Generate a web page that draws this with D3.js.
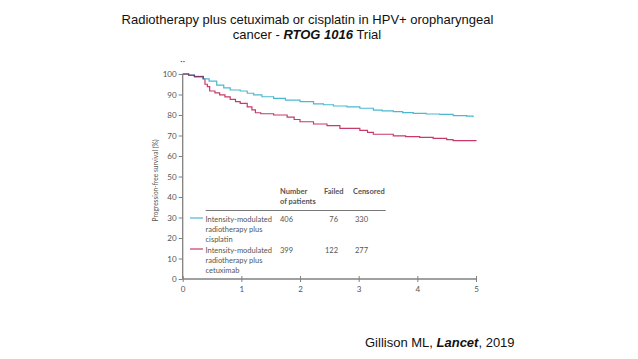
<!DOCTYPE html>
<html>
<head>
<meta charset="utf-8">
<script src="https://cdn.jsdelivr.net/npm/d3@7"></script>
<style>
  html, body { margin: 0; padding: 0; background: #fff; }
  svg { display: block; }
</style>
</head>
<body>
<svg id="chart" width="638" height="359"></svg>
<script>
// ---- Data ----
const xTicks = [0, 1, 2, 3, 4, 5];
const yTicks = [0, 10, 20, 30, 40, 50, 60, 70, 80, 90, 100];

const cisplatinTime = [0, 0.1, 0.2, 0.35, 0.45, 0.58, 0.7, 0.81, 0.98, 1.1, 1.21, 1.35, 1.55, 1.75, 2.0, 2.23, 2.4, 2.57, 2.8, 3.02, 3.25, 3.4, 3.59, 3.75, 3.93, 4.15, 4.38, 4.61, 4.84, 4.95];
const cisplatinSurv = [100, 99.5, 98.8, 97.6, 96.5, 94.6, 93.2, 92.2, 91.7, 90.6, 89.8, 88.9, 88.1, 87.3, 86.5, 85.4, 85.0, 84.4, 84.0, 83.3, 82.4, 82.0, 81.6, 81.2, 80.8, 80.5, 80.3, 79.7, 79.5, 78.9];

const cetuximabTime = [0, 0.1, 0.2, 0.35, 0.38, 0.42, 0.46, 0.55, 0.63, 0.72, 0.81, 0.9, 0.98, 1.1, 1.18, 1.24, 1.33, 1.55, 1.78, 1.9, 2.0, 2.23, 2.46, 2.68, 3.02, 3.15, 3.25, 3.59, 3.8, 4.04, 4.27, 4.5, 4.61, 5.0];
const cetuximabSurv = [100, 99.4, 98.7, 97.6, 95.0, 93.8, 91.7, 90.8, 89.8, 88.8, 87.6, 86.5, 85.7, 84.0, 82.5, 81.1, 80.6, 80.0, 79.0, 77.8, 76.7, 75.6, 74.8, 73.5, 72.5, 71.5, 70.6, 69.8, 69.5, 69.1, 68.6, 68.0, 67.5, 67.3];

const tableHeaders = [["Number", "of patients"], ["Failed"], ["Censored"]];
const groupNames = [["Intensity-modulated", "radiotherapy plus", "cisplatin"],
                    ["Intensity-modulated", "radiotherapy plus", "cetuximab"]];
const nPatients = [406, 399];
const nFailed = [76, 122];
const nCensored = [330, 277];
const groupColors = ["#4bb8cf", "#c83a6c"];

const titleLine1 = "Radiotherapy plus cetuximab or cisplatin in HPV+ oropharyngeal";
const yLabel = "Progression-free survival (%)";

// ---- Layout ----
const svg = d3.select("#chart");
const x = d3.scaleLinear().domain([0, 5]).range([182.7, 476]);
const y = d3.scaleLinear().domain([0, 100]).range([279, 74]);

const axisColor = "#808080";
const textColor = "#555";
const smallFont = "'Liberation Sans Narrow', 'Lato', sans-serif";

// fit a font size so a reference string has a given width
function fitSize(str, targetW, weight) {
  const t = svg.append("text").attr("font-family", smallFont).attr("font-size", 10)
    .attr("font-weight", weight || "normal").text(str);
  const w = t.node().getComputedTextLength();
  t.remove();
  return 10 * targetW / w;
}
const tableSize = fitSize("Intensity-modulated", 66.5);
const labelSize = fitSize(yLabel, 82);
const tickSize = fitSize("100", 14);

// Title
svg.append("text")
  .attr("x", 307.5).attr("y", 24)
  .attr("text-anchor", "middle")
  .attr("font-family", "'Liberation Sans', Arial, sans-serif")
  .attr("font-size", 13).attr("fill", "#111")
  .text(titleLine1);
const t2 = svg.append("text")
  .attr("x", 307).attr("y", 38.5)
  .attr("text-anchor", "middle")
  .attr("font-family", "'Liberation Sans', Arial, sans-serif")
  .attr("font-size", 13).attr("fill", "#111");
t2.append("tspan").text("cancer - ");
t2.append("tspan").attr("font-weight", "bold").attr("font-style", "italic").text("RTOG 1016");
t2.append("tspan").text(" Trial");

// Footer
const foot = svg.append("text")
  .attr("x", 365).attr("y", 347)
  .attr("font-family", "'Liberation Sans', Arial, sans-serif")
  .attr("font-size", 13).attr("fill", "#111");
foot.append("tspan").text("Gillison ML, ");
foot.append("tspan").attr("font-weight", "bold").attr("font-style", "italic").text("Lancet");
foot.append("tspan").text(", 2019");

// Axes
const gx = svg.append("g").attr("transform", `translate(0,${y(0)})`)
  .call(d3.axisBottom(x).tickValues(xTicks).tickSize(4).tickPadding(3).tickFormat(d3.format("d")));
const gy = svg.append("g").attr("transform", `translate(${x(0)},0)`)
  .call(d3.axisLeft(y).tickValues(yTicks).tickSize(4).tickPadding(2).tickFormat(d3.format("d")));
[gx, gy].forEach(g => {
  g.select(".domain").attr("stroke", axisColor).attr("stroke-width", 1.3);
  g.selectAll(".tick line").attr("stroke", axisColor);
  g.selectAll(".tick text").attr("fill", textColor)
    .attr("font-family", smallFont).attr("font-size", tickSize);
});
gx.selectAll(".tick line").attr("y1", -3).attr("y2", 3);
gx.select(".domain").attr("d", `M${x(0)},0H${x(5)}`);
gy.select(".domain").attr("d", `M0,${y(0)}V${y(100)}`);

// tiny leftover panel mark above axis
svg.append("text").attr("x", x(0)).attr("y", 64).attr("text-anchor", "middle")
  .attr("font-family", smallFont).attr("font-size", 9).attr("fill", "#555").text("··");

// Y label
svg.append("text")
  .attr("transform", `translate(158,${(y(0) + y(100)) / 2 + 4}) rotate(-90)`)
  .attr("text-anchor", "middle")
  .attr("font-family", smallFont).attr("font-size", labelSize).attr("fill", textColor)
  .text(yLabel);

// Curves
const line = d3.line().x(d => x(d[0])).y(d => y(d[1])).curve(d3.curveStepAfter);
const series = [
  d3.zip(cisplatinTime, cisplatinSurv),
  d3.zip(cetuximabTime, cetuximabSurv)
];
svg.append("path").datum(series[1]).attr("d", line)
  .attr("fill", "none").attr("stroke", groupColors[1]).attr("stroke-width", 1.2);
svg.append("path").datum(series[0]).attr("d", line)
  .attr("fill", "none").attr("stroke", groupColors[0]).attr("stroke-width", 1.2);
// overlapping initial segment appears dark purple
svg.append("path").datum(series[1].filter(d => d[0] <= 0.35)).attr("d", line)
  .attr("fill", "none").attr("stroke", "#7a3a6a").attr("stroke-width", 1.2);

// Table
const colX = [280, 324, 353];
tableHeaders.forEach((lines, i) => {
  lines.forEach((s, j) => {
    svg.append("text").attr("x", colX[i]).attr("y", 193.5 + j * 10)
      .attr("font-family", smallFont).attr("font-size", tableSize).attr("font-weight", "bold")
      .attr("fill", textColor).text(s);
  });
});
svg.append("line").attr("x1", 205.7).attr("x2", 385.7).attr("y1", 210.5).attr("y2", 210.5)
  .attr("stroke", "#777").attr("stroke-width", 1);

const rowY = [218, 249];
groupNames.forEach((lines, i) => {
  svg.append("line").attr("x1", 190).attr("x2", 203)
    .attr("y1", rowY[i]).attr("y2", rowY[i])
    .attr("stroke", groupColors[i]).attr("stroke-width", 1.2);
  lines.forEach((s, j) => {
    svg.append("text").attr("x", 205.5).attr("y", rowY[i] + 3.5 + j * 10)
      .attr("font-family", smallFont).attr("font-size", tableSize).attr("fill", textColor).text(s);
  });
  svg.append("text").attr("x", 280).attr("y", rowY[i] + 3.5)
    .attr("font-family", smallFont).attr("font-size", tableSize).attr("fill", textColor).text(nPatients[i]);
  svg.append("text").attr("x", 338).attr("y", rowY[i] + 3.5).attr("text-anchor", "end")
    .attr("font-family", smallFont).attr("font-size", tableSize).attr("fill", textColor).text(nFailed[i]);
  svg.append("text").attr("x", 355).attr("y", rowY[i] + 3.5)
    .attr("font-family", smallFont).attr("font-size", tableSize).attr("fill", textColor).text(nCensored[i]);
});
</script>
</body>
</html>
